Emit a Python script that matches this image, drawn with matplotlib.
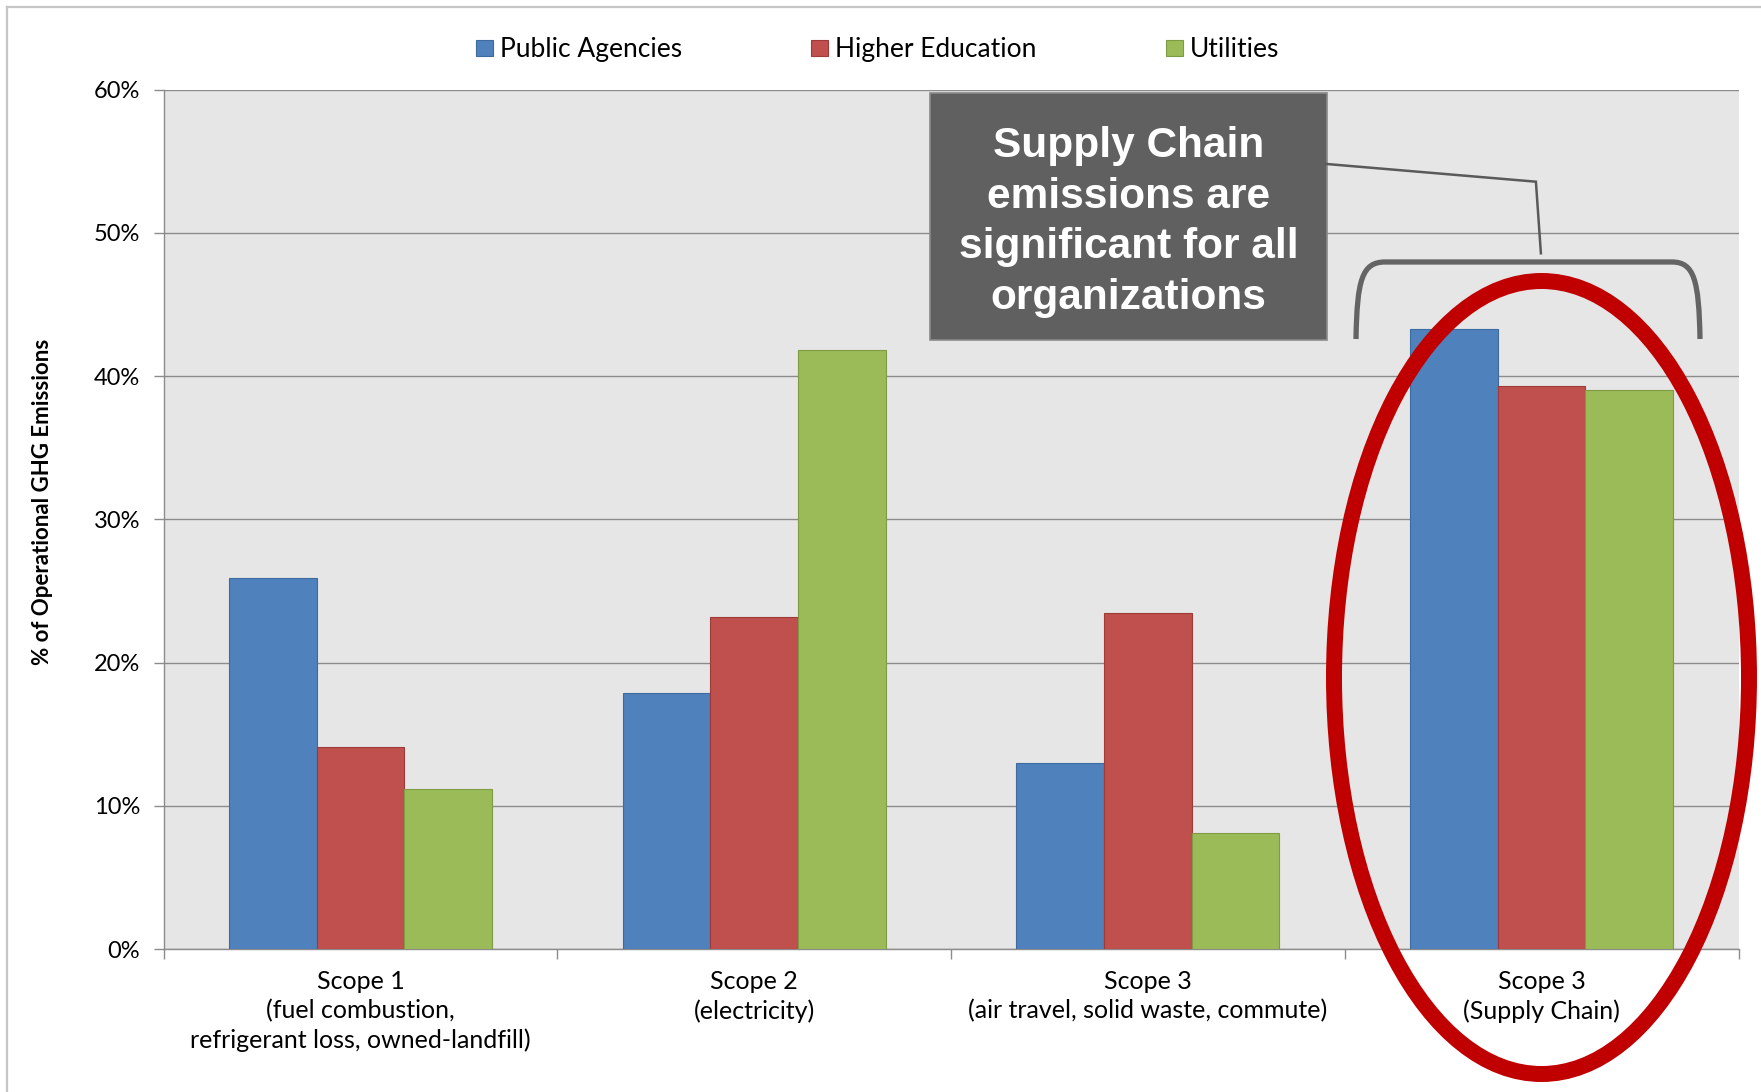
import matplotlib
matplotlib.use("Agg")
import matplotlib.pyplot as plt
import numpy as np
from matplotlib.patches import Rectangle, Ellipse, PathPatch
from matplotlib.path import Path
from matplotlib.lines import Line2D

# ---- data ----
categories = ["Scope 1\n(fuel combustion,\nrefrigerant loss, owned-landfill)",
              "Scope 2\n(electricity)",
              "Scope 3\n(air travel, solid waste, commute)",
              "Scope 3\n(Supply Chain)"]
series_names = ["Public Agencies", "Higher Education", "Utilities"]
public_agencies = [25.9, 17.9, 13.0, 43.3]
higher_education = [14.1, 23.2, 23.5, 39.3]
utilities = [11.2, 41.8, 8.1, 39.0]
y_ticks = [0, 10, 20, 30, 40, 50, 60]
y_label = "% of Operational GHG Emissions"
callout_text = "Supply Chain\nemissions are\nsignificant for all\norganizations"

colors = ["#4f81bd", "#c0504d", "#9bbb59"]
edges = ["#3d6a9f", "#9e3b38", "#7f9c45"]

FONT = "Lato"
W, H = 1761, 1092
fig = plt.figure(figsize=(W / 100, H / 100), dpi=100)
fig.patch.set_facecolor("white")

def fx(px):
    return px / W

def fy(py):
    return 1 - py / H

left, right, top, bottom = 163.6, 1738.5, 89.5, 949.3
ax = fig.add_axes([fx(left), fy(bottom), fx(right - left), (bottom - top) / H])
ax.set_facecolor("#e6e6e6")

x = np.arange(len(categories))
w = 0.2228
handles = []
for i, vals in enumerate([public_agencies, higher_education, utilities]):
    b = ax.bar(x + (i - 1) * w, vals, width=w, color=colors[i], edgecolor=edges[i],
               linewidth=0.8, label=series_names[i], zorder=3)
    handles.append(b)

ax.set_xlim(-0.5, len(categories) - 0.5)
ax.set_ylim(0, 60)
ax.set_yticks(y_ticks)
ax.set_yticklabels([f"{v}%" for v in y_ticks], fontsize=17, family=FONT)
ax.yaxis.grid(True, color="#8c8c8c", linewidth=1.0, zorder=0)
ax.set_axisbelow(True)

ax.set_xticks(np.arange(len(categories) + 1) - 0.5)
ax.set_xticklabels([])
ax.set_xticks(x, minor=True)
ax.set_xticklabels(categories, minor=True, fontsize=18, family=FONT, linespacing=1.3)
ax.tick_params(axis="x", which="major", length=7, color="#8c8c8c", width=1)
ax.tick_params(axis="x", which="minor", length=0, pad=15)
ax.tick_params(axis="y", length=7, color="#8c8c8c", width=1, pad=10)

for s in ["top", "right"]:
    ax.spines[s].set_visible(False)
for s in ["left", "bottom"]:
    ax.spines[s].set_color("#8c8c8c")
    ax.spines[s].set_linewidth(1.0)

# y label
fig.text(fx(43), fy(502), y_label, rotation=90, ha="center", va="center",
         fontsize=16, fontweight="bold", family=FONT)

# legend
fs = 19
fs_px = fs * 100 / 72
leg = fig.legend(handles=handles, labels=series_names, loc="center left",
                 bbox_to_anchor=(fx(476), fy(49.5)), ncol=3, frameon=False,
                 prop={"family": FONT, "size": fs},
                 handlelength=17 / fs_px, handleheight=15 / fs_px,
                 handletextpad=7 / fs_px, columnspacing=129 / fs_px,
                 borderaxespad=0, borderpad=0)

# outer chart border (top and left visible)
fig.add_artist(Line2D([fx(7), 1.0], [fy(7), fy(7)], color="#c6c6c6", lw=1.6))
fig.add_artist(Line2D([fx(7), fx(7)], [fy(7), 0.0], color="#c6c6c6", lw=1.6))

# ---- annotations in data coordinates ----
def dx(px):
    return (px - left) / ((right - left) / len(categories)) - 0.5

def dy(py):
    return (bottom - py) / ((bottom - top) / 60.0)

# callout box
box = Rectangle((dx(930.2), dy(340)), dx(1326.7) - dx(930.2), dy(93.3) - dy(340),
                facecolor="#606060", edgecolor="#8a8a8a", linewidth=1.2,
                zorder=6, clip_on=False)
ax.add_patch(box)
ax.text((dx(930.2) + dx(1326.7)) / 2, dy(222), callout_text, ha="center", va="center",
        color="white", fontsize=30.5, fontweight="bold", family="Liberation Sans",
        linespacing=1.35, zorder=7)

# connector line
ax.plot([dx(1326.7), dx(1535.9), dx(1540.9)], [dy(164), dy(181.7), dy(253.3)],
        color="#5a5a5a", lw=1.8, zorder=6, clip_on=False, solid_joinstyle="miter")

# bracket
verts = [(dx(1356), dy(339)), (dx(1357), dy(280)), (dx(1362), dy(262)), (dx(1385), dy(262)),
         (dx(1672), dy(262)),
         (dx(1694), dy(262)), (dx(1699), dy(280)), (dx(1700), dy(339))]
codes = [Path.MOVETO, Path.CURVE4, Path.CURVE4, Path.CURVE4, Path.LINETO,
         Path.CURVE4, Path.CURVE4, Path.CURVE4]
ax.add_patch(PathPatch(Path(verts, codes), facecolor="none", edgecolor="#646464",
                       lw=3.8, zorder=6, clip_on=False))

# red ellipse
ell = Ellipse((dx(1541.5), dy(677.5)), dx(1749) - dx(1334), dy(281) - dy(1074),
              facecolor="none", edgecolor="#c00000", lw=11.5, zorder=8, clip_on=False)
ax.add_patch(ell)

fig.savefig("out.png", dpi=100)
